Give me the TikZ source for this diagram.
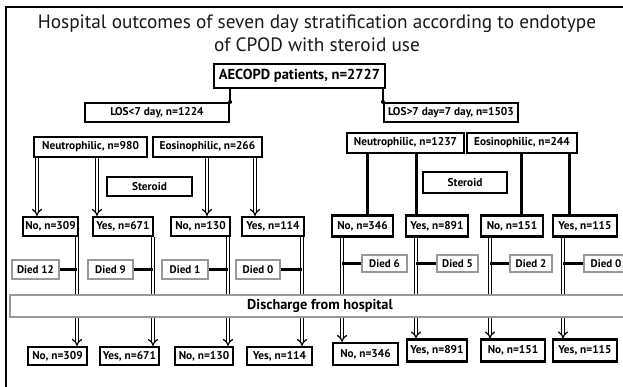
\documentclass[tikz,border=0pt]{standalone}
\usepackage{fontspec}
\setmainfont{PT Sans}
\usetikzlibrary{arrows.meta}
\begin{document}
\begin{tikzpicture}[x=1pt,y=-1pt,
  bb/.style={draw=black, line width=2.2pt, fill=white, inner sep=0pt, font=\fontsize{11.3}{13}\selectfont\bfseries},
  big/.style={bb, font=\fontsize{14.5}{16}\selectfont\bfseries},
  died/.style={draw=black!40, line width=1.4pt, fill=white, inner sep=0pt, font=\fontsize{11}{13}\selectfont\bfseries},
  bar/.style={draw=black!40, line width=1.4pt, fill=white, inner sep=0pt, font=\fontsize{14.3}{16}\selectfont\bfseries},
  titlestyle/.style={align=center, text=black!90, font=\fontsize{19.3}{23}\selectfont},
  hollow/.style={draw=black, line width=1.2pt, double=white, double distance=2.2pt, -{Implies}},
  solidline/.style={draw=black, line width=3pt},
  tie/.style={draw=black, line width=2.8pt},
  joint/.style={draw=black, line width=2.4pt}]
\useasboundingbox (0,0) rectangle (623,386);
\clip (0,0) rectangle (623,386);
\draw[line width=1.3pt] (6,390) -- (6,7) -- (630,7);

\node[titlestyle] (title) at (317,33.5) {Hospital outcomes of seven day stratification according to endotype\\of CPOD with steroid use};

% top
\node[big, minimum width=171pt, minimum height=24pt] (ae) at (299.5,76) {AECOPD patients, n=2727};
\node[bb, minimum width=144pt, minimum height=19pt] (losL) at (157,112.5) {LOS<7 day, n=1224};
\node[bb, minimum width=134pt, minimum height=19pt] (losR) at (451,112.5) {LOS>7 day=7 day, n=1503};
\draw[joint] (losL.north east) -- (losL.north east |- ae.south);
\draw[joint] (losR.north west) -- (losR.north west |- ae.south);
\fill (losL.north east) circle (2pt);
\fill (losR.north west) circle (2pt);

% left block
\node[bb, minimum width=113pt, minimum height=20pt] (nL) at (90.5,147) {Neutrophilic, n=980};
\node[bb, minimum width=109pt, minimum height=20pt] (eL) at (207.5,147) {Eosinophilic, n=266};
\node[bb, minimum width=85pt, minimum height=19pt] (sL) at (149.5,186.5) {Steroid};
\node[bb, minimum width=55pt, minimum height=19pt] (r1) at (50.5,226.5) {No, n=309};
\node[bb, minimum width=60pt, minimum height=19pt] (r2) at (123,226.5) {Yes, n=671};
\node[bb, minimum width=59pt, minimum height=19pt] (r3) at (200.5,226.5) {No, n=130};
\node[bb, minimum width=62pt, minimum height=19pt] (r4) at (273,226.5) {Yes, n=114};
\node[bb, minimum width=59pt, minimum height=18pt] (b1) at (57.5,356) {No, n=309};
\node[bb, minimum width=59pt, minimum height=18pt] (b2) at (129.5,356) {Yes, n=671};
\node[bb, minimum width=58pt, minimum height=18pt] (b3) at (204,356) {No, n=130};
\node[bb, minimum width=65pt, minimum height=18pt] (b4) at (279.5,356) {Yes, n=114};

\coordinate (ua1) at (37,0);
\coordinate (ua2) at (97,0);
\coordinate (ua3) at (207,0);
\coordinate (ua4) at (255,0);
\draw[hollow] (nL.south -| ua1) -- (r1.north -| ua1);
\draw[hollow] (nL.south -| ua2) -- (r2.north -| ua2);
\draw[hollow] (eL.south -| ua3) -- (r3.north -| ua3);
\draw[hollow] (eL.south -| ua4) -- (r4.north -| ua4);

\coordinate (la1) at (77,0);
\coordinate (la2) at (153,0);
\coordinate (la3) at (228,0);
\coordinate (la4) at (302,0);
\draw[hollow] (r1.south -| la1) -- (b1.north -| la1);
\draw[hollow] (r2.south -| la2) -- (b2.north -| la2);
\draw[hollow] (r3.south -| la3) -- (b3.north -| la3);
\draw[hollow] (r4.south -| la4) -- (b4.north -| la4);

% right block
\node[bb, minimum width=117pt, minimum height=20pt] (nR) at (405.5,143) {Neutrophilic, n=1237};
\node[bb, minimum width=110pt, minimum height=20pt] (eR) at (522,143) {Eosinophilic, n=244};
\node[bb, minimum width=84pt, minimum height=21pt] (sR) at (465,182.5) {Steroid};
\node[bb, minimum width=61pt, minimum height=21pt] (R1) at (362.5,226) {No, n=346};
\node[bb, minimum width=62pt, minimum height=21pt] (R2) at (437,226) {Yes, n=891};
\node[bb, minimum width=62pt, minimum height=21pt] (R3) at (512,226) {No, n=151};
\node[bb, minimum width=64pt, minimum height=21pt] (R4) at (585,226) {Yes, n=115};
\node[bb, minimum width=65pt, minimum height=22pt] (B1) at (365.5,354) {No, n=346};
\node[bb, minimum width=60pt, minimum height=22pt] (B2) at (437,350.5) {Yes, n=891};
\node[bb, minimum width=64pt, minimum height=22pt] (B3) at (513,350.5) {No, n=151};
\node[bb, minimum width=64pt, minimum height=22pt] (B4) at (585,350.5) {Yes, n=115};

\coordinate (ub1) at (367,0);
\coordinate (ub2) at (416,0);
\coordinate (ub3) at (521,0);
\coordinate (ub4) at (569,0);
\draw[solidline] (nR.south -| ub1) -- (R1.north -| ub1);
\draw[solidline] (nR.south -| ub2) -- (R2.north -| ub2);
\draw[solidline] (eR.south -| ub3) -- (R3.north -| ub3);
\draw[solidline] (eR.south -| ub4) -- (R4.north -| ub4);

\coordinate (lb1) at (342,0);
\coordinate (lb2) at (416,0);
\coordinate (lb3) at (490,0);
\coordinate (lb4) at (563,0);
\draw[hollow] (R1.south -| lb1) -- (B1.north -| lb1);
\draw[hollow] (R2.south -| lb2) -- (B2.north -| lb2);
\draw[hollow] (R3.south -| lb3) -- (B3.north -| lb3);
\draw[hollow] (R4.south -| lb4) -- (B4.north -| lb4);

% discharge bar
\node[bar, minimum width=620pt, minimum height=22pt] (dis) at (320,306) {Discharge from hospital};

% died left
\node[died, minimum width=47pt, minimum height=19pt] (d1) at (35.5,269.5) {Died 12};
\node[died, minimum width=45pt, minimum height=19pt] (d2) at (110.5,269.5) {Died 9};
\node[died, minimum width=46pt, minimum height=19pt] (d3) at (185,269.5) {Died 1};
\node[died, minimum width=44pt, minimum height=19pt] (d4) at (258,269.5) {Died 0};
\draw[tie] (d1.east) -- (d1.east -| la1);
\draw[tie] (d2.east) -- (d2.east -| la2);
\draw[tie] (d3.east) -- (d3.east -| la3);
\draw[tie] (d4.east) -- (d4.east -| la4);

% died right
\node[died, minimum width=45pt, minimum height=17pt] (D1) at (384.5,263.5) {Died 6};
\node[died, minimum width=41pt, minimum height=17pt] (D2) at (457.5,263.5) {Died 5};
\node[died, minimum width=42pt, minimum height=17pt] (D3) at (531,263.5) {Died 2};
\node[died, minimum width=44pt, minimum height=17pt] (D4) at (606,263.5) {Died 0};
\draw[tie] (D1.west) -- (D1.west -| lb1);
\draw[tie] (D2.west) -- (D2.west -| lb2);
\draw[tie] (D3.west) -- (D3.west -| lb3);
\draw[tie] (D4.west) -- (D4.west -| lb4);
\end{tikzpicture}
\end{document}
